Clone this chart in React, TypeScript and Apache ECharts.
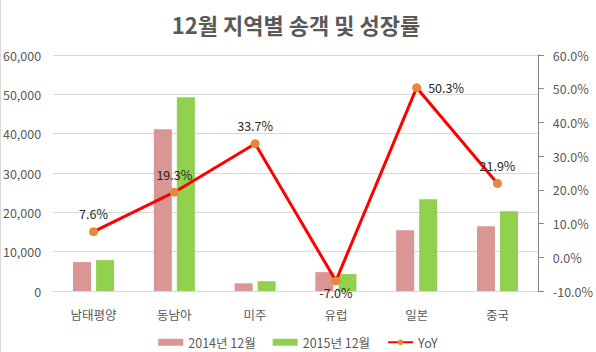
import React, { useEffect, useRef } from "react";
import * as echarts from "echarts";

const categories = ["남태평양", "동남아", "미주", "유럽", "일본", "중국"];
const visitors2014 = [7350, 41100, 1950, 4800, 15450, 16450];
const visitors2015 = [7850, 49250, 2500, 4300, 23300, 20250];
const yoy = [7.6, 19.3, 33.7, -7.0, 50.3, 21.9];
const yoyLabelPos = ["top", "top", "top", "bottom", "right", "top"];

const FONT = "'Noto Sans CJK KR', 'Noto Sans', sans-serif";

export default function App() {
  const ref = useRef<HTMLDivElement>(null);
  useEffect(() => {
    if (!ref.current) return;
    const chart = echarts.init(ref.current, undefined, { renderer: "svg" });
    chart.setOption({
      animation: false,
      backgroundColor: "#ffffff",
      textStyle: { fontFamily: FONT },
      title: {
        text: "12월 지역별 송객 및 성장률",
        left: 291,
        textAlign: "center",
        top: 8,
        textStyle: { fontSize: 22, fontWeight: "bold", color: "#595959", fontFamily: FONT },
      },
      grid: { left: 52, right: 58, top: 55, bottom: 61 },
      legend: {
        left: "center",
        top: 331,
        itemGap: 17,
        itemWidth: 25,
        itemHeight: 7,
        textStyle: { fontSize: 12.5, color: "#595959", fontFamily: FONT },
        data: [
          { name: "2014년 12월", icon: "rect" },
          { name: "2015년 12월", icon: "rect" },
          { name: "YoY" },
        ],
      },
      xAxis: {
        type: "category",
        data: categories,
        axisLine: { lineStyle: { color: "#D9D9D9" } },
        axisTick: { show: false },
        axisLabel: { color: "#595959", fontSize: 12.5, margin: 17, fontFamily: FONT },
      },
      yAxis: [
        {
          type: "value",
          min: 0,
          max: 60000,
          interval: 10000,
          axisLine: { show: false },
          axisTick: { show: false },
          splitLine: { lineStyle: { color: "#D9D9D9" } },
          axisLabel: {
            color: "#595959",
            fontSize: 12.5,
            margin: 12,
            fontFamily: FONT,
            formatter: (v: number) => v.toLocaleString("en-US"),
          },
        },
        {
          type: "value",
          min: -10,
          max: 60,
          interval: 10,
          position: "right",
          axisLine: { show: true, lineStyle: { color: "#868686" } },
          axisTick: { show: true, inside: false, length: 6, lineStyle: { color: "#868686" } },
          splitLine: { show: false },
          axisLabel: {
            color: "#595959",
            fontSize: 12.5,
            margin: 15,
            fontFamily: FONT,
            formatter: (v: number) => v.toFixed(1) + "%",
          },
        },
      ],
      series: [
        {
          name: "2014년 12월",
          type: "bar",
          data: visitors2014,
          barWidth: 18,
          barGap: "28%",
          itemStyle: { color: "#D99694" },
        },
        {
          name: "2015년 12월",
          type: "bar",
          data: visitors2015,
          barWidth: 18,
          itemStyle: { color: "#92D050" },
        },
        {
          name: "YoY",
          type: "line",
          yAxisIndex: 1,
          data: yoy.map((v, i) => ({
            value: v,
            label: { position: yoyLabelPos[i], distance: yoyLabelPos[i] === "bottom" ? 1 : 7 },
          })),
          symbol: "circle",
          symbolSize: 9,
          lineStyle: { color: "#FF0000", width: 3 },
          itemStyle: { color: "#E3893C" },
          label: {
            show: true,
            color: "#262626",
            fontSize: 12.5,
            fontFamily: FONT,
            distance: 7,
            formatter: (p: any) => Number(p.value).toFixed(1) + "%",
          },
          z: 5,
        },
      ],
      graphic: [
        {
          type: "line",
          shape: { x1: 0.5, y1: 0, x2: 0.5, y2: 352 },
          style: { stroke: "#D9D9D9", lineWidth: 1 },
        },
      ],
    });
    return () => chart.dispose();
  }, []);
  return (
    <div
      ref={ref}
      style={{ position: "absolute", left: 0, top: 0, width: 596, height: 352 }}
    />
  );
}
